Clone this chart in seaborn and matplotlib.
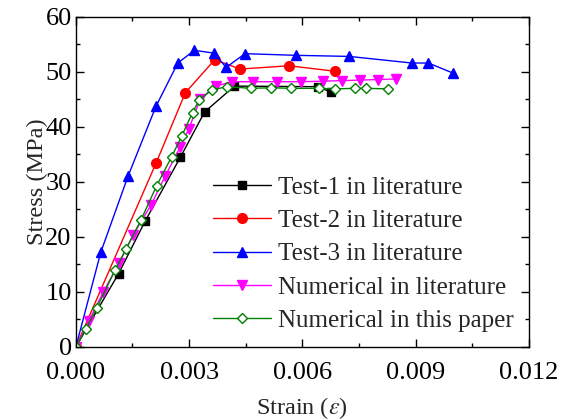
import matplotlib
matplotlib.use("Agg")
import matplotlib.pyplot as plt
from matplotlib.ticker import MultipleLocator, FormatStrFormatter
import seaborn as sns
import pandas as pd

# ---- data ----
test1_strain = [0, 0.00113, 0.00183, 0.00277, 0.00341, 0.00420, 0.00642, 0.00675]
test1_stress = [0, 13.3, 22.8, 34.5, 42.7, 47.4, 47.3, 46.3]

test2_strain = [0, 0.00213, 0.00290, 0.00368, 0.00435, 0.00565, 0.00687]
test2_stress = [0, 33.5, 46.2, 52.2, 50.5, 51.1, 50.1]

test3_strain = [0, 0.00066, 0.00138, 0.00212, 0.00270, 0.00314, 0.00366, 0.00398,
                0.00448, 0.00582, 0.00724, 0.00890, 0.00934, 0.00998]
test3_stress = [0, 17.2, 31.0, 43.7, 51.6, 53.9, 53.4, 50.8, 53.3, 53.0, 52.8,
                51.6, 51.6, 49.8]

numlit_strain = [0, 0.00035, 0.00072, 0.00115, 0.00152, 0.00199, 0.00237, 0.00276,
                 0.00299, 0.00330, 0.00371, 0.00413, 0.00470, 0.00532, 0.00596,
                 0.00654, 0.00704, 0.00753, 0.00800, 0.00848]
numlit_stress = [0, 4.8, 9.9, 15.3, 20.4, 25.8, 31.1, 36.3, 39.6, 45.1, 47.4, 48.2,
                 48.2, 48.2, 48.2, 48.3, 48.4, 48.5, 48.6, 48.7]

numpap_strain = [0, 0.000265, 0.00055, 0.00104, 0.00133, 0.00172, 0.00214, 0.00254,
                 0.00281, 0.00309, 0.00327, 0.00360, 0.00400, 0.00464, 0.00517,
                 0.00571, 0.00645, 0.00687, 0.00740, 0.00768, 0.00828]
numpap_stress = [0, 3.2, 7.0, 14.0, 17.8, 23.0, 29.3, 34.6, 38.4, 42.6, 44.9, 46.7,
                 47.3, 47.0, 47.1, 47.0, 47.0, 46.9, 47.0, 47.0, 46.9]

labels = ["Test-1 in literature", "Test-2 in literature", "Test-3 in literature",
          "Numerical in literature", "Numerical in this paper"]
x_ticks = [0.000, 0.003, 0.006, 0.009, 0.012]
y_ticks = [0, 10, 20, 30, 40, 50, 60]

# ---- style ----
sns.set_theme(style="ticks")
plt.rcParams['font.family'] = ['Liberation Serif', 'DejaVu Serif']
plt.rcParams['mathtext.fontset'] = 'stix'

fig = plt.figure(figsize=(5.62, 4.2), dpi=100)
ax = fig.add_axes([0.135, 0.174, 0.806, 0.786])

series = [
    (test1_strain, test1_stress, labels[0], "black", "s", "black", 6),
    (test2_strain, test2_stress, labels[1], "red", "o", "red", 7),
    (test3_strain, test3_stress, labels[2], "blue", "^", "blue", 7.5),
    (numlit_strain, numlit_stress, labels[3], "magenta", "v", "magenta", 7.5),
    (numpap_strain, numpap_stress, labels[4], "green", "D", "white", 5.5),
]
for xs, ys, lab, col, mk, fc, ms in series:
    df = pd.DataFrame({"strain": xs, "stress": ys})
    sns.lineplot(data=df, x="strain", y="stress", ax=ax, color=col, label=lab,
                 marker=mk, markersize=ms, markerfacecolor=fc,
                 markeredgecolor=col, markeredgewidth=1.0, linewidth=1.0,
                 sort=False, estimator=None)

ax.set_xlim(0, 0.012)
ax.set_ylim(0, 60)
ax.set_xticks(x_ticks)
ax.set_yticks(y_ticks)
ax.xaxis.set_major_formatter(FormatStrFormatter('%.3f'))
ax.xaxis.set_minor_locator(MultipleLocator(0.0015))
ax.yaxis.set_minor_locator(MultipleLocator(5))
ax.tick_params(which='both', direction='in', top=True, right=True,
               labelsize=19, width=1.0, colors='black')
ax.tick_params(which='major', length=6)
ax.tick_params(which='minor', length=3)
ax.tick_params(axis='x', which='both', pad=11)
ax.tick_params(axis='y', which='both', pad=3)
for sp in ax.spines.values():
    sp.set_linewidth(1.0)
    sp.set_color('black')

ax.set_xlabel(r"Strain ($\varepsilon$)", fontsize=17.5, labelpad=8)
ax.set_ylabel("Stress (MPa)", fontsize=17.5, labelpad=-2)

leg = ax.legend(loc='lower right', frameon=False, fontsize=18,
                handlelength=2.3, handletextpad=0.3, labelspacing=0.43,
                borderaxespad=0.4, borderpad=0.2)

fig.savefig("out.png", dpi=100)
